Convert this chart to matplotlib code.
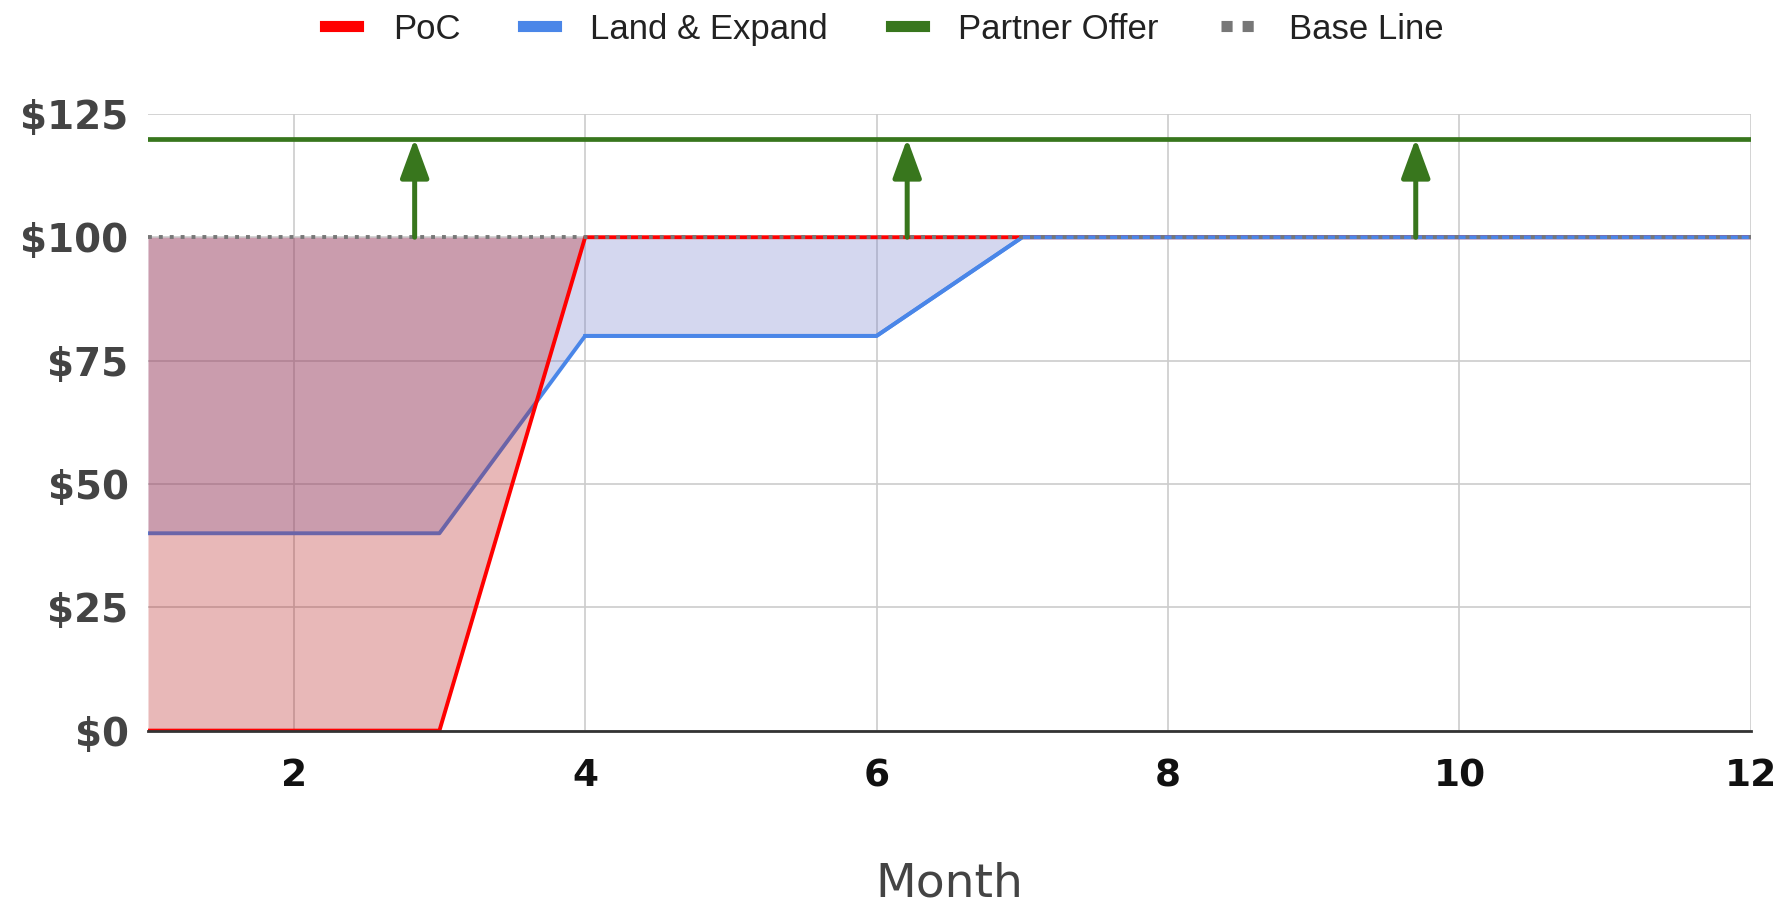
import matplotlib
matplotlib.use("Agg")
import matplotlib.pyplot as plt
from matplotlib.lines import Line2D

# monthly price per plan
months = [1, 2, 3, 4, 5, 6, 7, 8, 9, 10, 11, 12]
poc = [0, 0, 0, 100, 100, 100, 100, 100, 100, 100, 100, 100]
land_expand = [40, 40, 40, 80, 80, 80, 100, 100, 100, 100, 100, 100]
base_line = [100] * 12
partner_offer = [120] * 12

# where the uplift arrows sit (month)
arrow_months = [2.83, 6.21, 9.70]

y_ticks = [0, 25, 50, 75, 100, 125]
y_labels = ["$0", "$25", "$50", "$75", "$100", "$125"]
x_ticks = [2, 4, 6, 8, 10, 12]

RED = "#ff0000"
BLUE = "#4a86e8"
GREEN = "#38761d"
GREY = "#777777"

fig = plt.figure(figsize=(17.83, 9.11), dpi=100)
ax = fig.add_axes([0.083, 0.198, 0.899, 0.677])

ax.fill_between(months, land_expand, base_line, color="#737dcd", alpha=0.3, lw=0, zorder=1)
ax.plot(months, land_expand, color=BLUE, lw=2.8, zorder=2)
ax.fill_between(months, poc, base_line, color="#b51616", alpha=0.3, lw=0, zorder=3)
ax.plot(months, poc, color=RED, lw=2.8, zorder=4)
# blue line again where it sits outside the red area
ax.plot(months[3:], land_expand[3:], color=BLUE, lw=2.8, zorder=5)
ax.plot(months, base_line, color=GREY, lw=2.8, dashes=(1, 1.8), zorder=6)
ax.plot(months, partner_offer, color=GREEN, lw=3.4, zorder=6)

for m in arrow_months:
    ax.annotate("", xy=(m, partner_offer[0]), xytext=(m, base_line[0]),
                arrowprops=dict(arrowstyle="-|>,head_length=0.6,head_width=0.22",
                                color=GREEN, lw=3.6,
                                mutation_scale=40, shrinkA=0, shrinkB=0),
                zorder=7)

ax.set_xlim(1, 12)
ax.set_ylim(0, 125)
ax.set_xticks(x_ticks)
ax.set_yticks(y_ticks)
ax.set_yticklabels(y_labels)
ax.tick_params(length=0)
ax.tick_params(axis="y", pad=14, labelsize=28, labelcolor="#444444")
ax.tick_params(axis="x", pad=20, labelsize=27, labelcolor="#111111")
for lab in ax.get_xticklabels() + ax.get_yticklabels():
    lab.set_fontweight("bold")

ax.grid(True, color="#cccccc", lw=1.2)
ax.set_axisbelow(True)
for side in ["left", "top", "right"]:
    ax.spines[side].set_visible(False)
ax.spines["bottom"].set_color("#333333")
ax.spines["bottom"].set_linewidth(2)
ax.spines["bottom"].set_zorder(4.5)

ax.set_xlabel("Month", fontsize=34, color="#444444", labelpad=48)

handles = [
    Line2D([], [], color=RED, lw=8),
    Line2D([], [], color=BLUE, lw=8),
    Line2D([], [], color=GREEN, lw=8),
    Line2D([], [], color=GREY, lw=8, dashes=(1, 0.9)),
]
fig.legend(handles, ["PoC", "Land & Expand", "Partner Offer", "Base Line"],
           loc="center", bbox_to_anchor=(0.496, 0.968), ncol=4, frameon=False,
           prop={"family": "Liberation Sans", "size": 25},
           handlelength=0.95, handletextpad=1.0, columnspacing=1.8,
           labelcolor="#222222")

fig.savefig("out.png", dpi=100)
